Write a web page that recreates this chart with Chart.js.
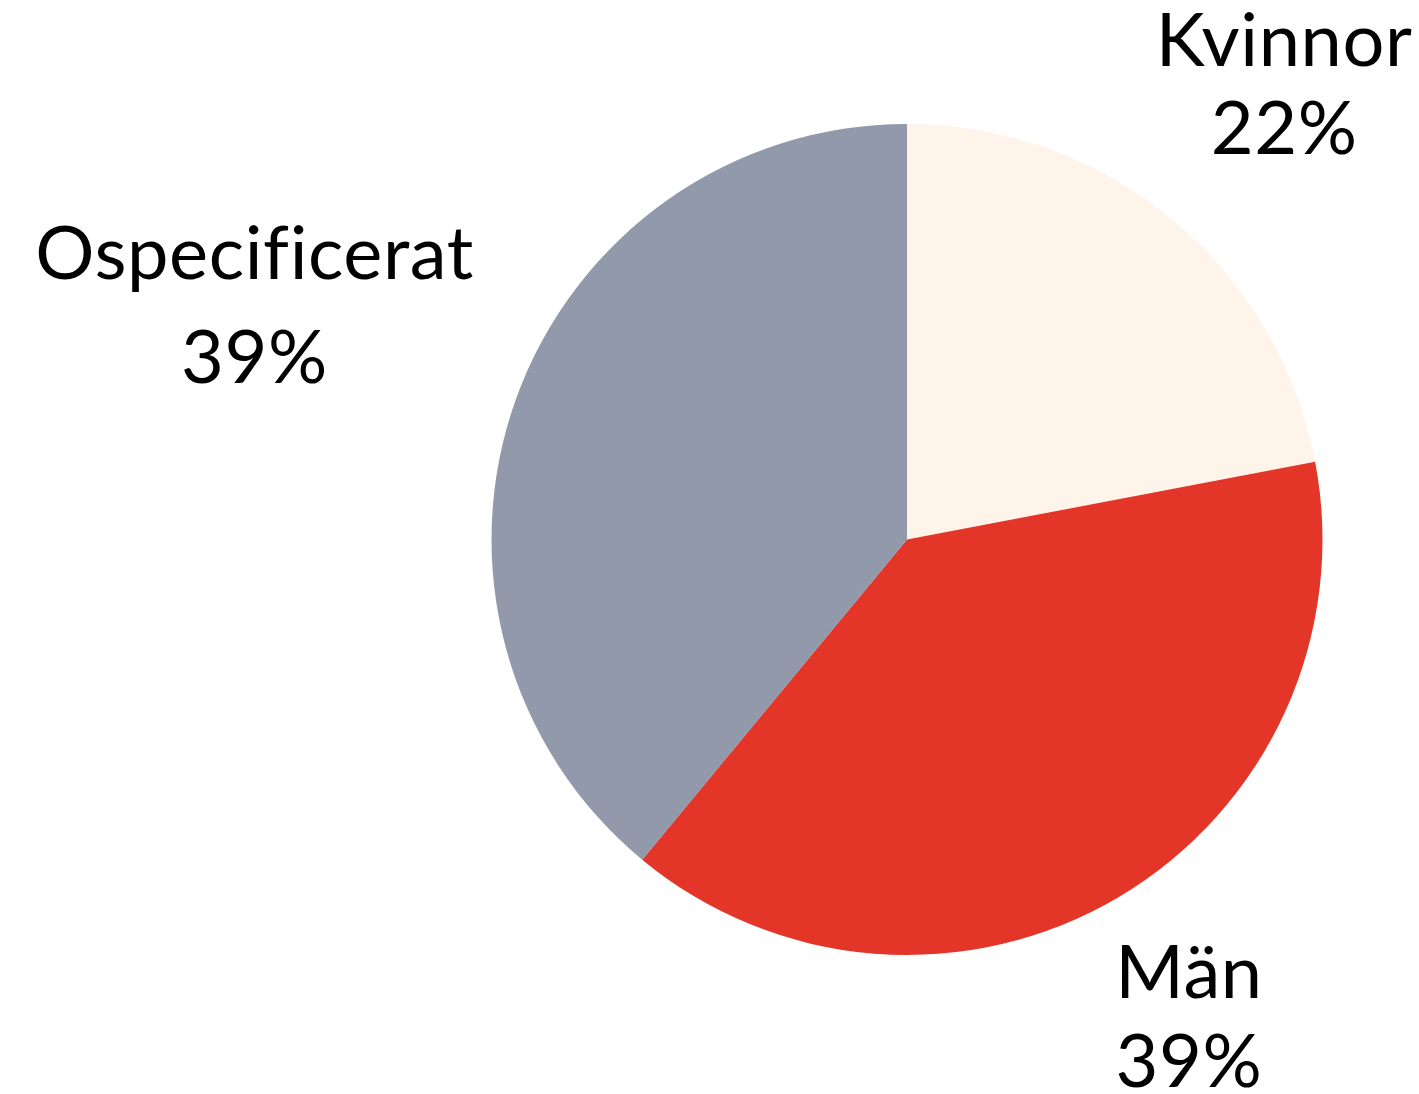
<!DOCTYPE html>
<html>
<head>
<meta charset="utf-8">
<script src="https://cdn.jsdelivr.net/npm/chart.js@4/dist/chart.umd.min.js"></script>
<style>
  html, body { margin: 0; padding: 0; background: #ffffff; }
  #wrap { width: 1419px; height: 1094px; }
</style>
</head>
<body>
<div id="wrap"><canvas id="c" width="1419" height="1094"></canvas></div>
<script>
const categories = ['Kvinnor', 'Män', 'Ospecificerat'];
const shares = [22, 39, 39];
const percentLabels = ['22%', '39%', '39%'];
const sliceColors = ['#FEF4EA', '#E43529', '#9199AA'];

// label placement along the slice's mid-angle (multiple of radius) and line spacing
const labelDistance = [1.424, 1.333, 1.669];
const labelLineGap = [88, 89, 104];

const FONT_FAMILY = 'Lato, "Noto Sans", sans-serif';
const FONT_SIZE = 74;

const outsideLabels = {
  id: 'outsideLabels',
  afterDatasetsDraw(chart) {
    const ctx = chart.ctx;
    const meta = chart.getDatasetMeta(0);
    ctx.save();
    ctx.fillStyle = '#000000';
    ctx.font = `${FONT_SIZE}px ${FONT_FAMILY}`;
    if ('letterSpacing' in ctx) ctx.letterSpacing = '0.6px';
    ctx.textAlign = 'center';
    ctx.textBaseline = 'alphabetic';
    const capH = FONT_SIZE * 0.72;
    meta.data.forEach((arc, i) => {
      const p = arc.getProps(['x', 'y', 'startAngle', 'endAngle', 'outerRadius'], true);
      const mid = (p.startAngle + p.endAngle) / 2;
      const d = p.outerRadius * labelDistance[i];
      const ax = p.x + Math.cos(mid) * d;
      const ay = p.y + Math.sin(mid) * d;
      const gap = labelLineGap[i];
      ctx.fillText(chart.data.labels[i], ax, ay - gap / 2 + capH / 2);
      ctx.fillText(percentLabels[i], ax, ay + gap / 2 + capH / 2);
    });
    ctx.restore();
  }
};

new Chart(document.getElementById('c'), {
  type: 'pie',
  data: {
    labels: categories,
    datasets: [{
      data: shares,
      backgroundColor: sliceColors,
      borderWidth: 0,
      hoverOffset: 0
    }]
  },
  options: {
    responsive: false,
    animation: false,
    layout: { padding: { left: 491.5, right: 96.5, top: 124, bottom: 139 } },
    plugins: {
      legend: { display: false },
      tooltip: { enabled: false },
      title: { display: false }
    }
  },
  plugins: [outsideLabels]
});
</script>
</body>
</html>
